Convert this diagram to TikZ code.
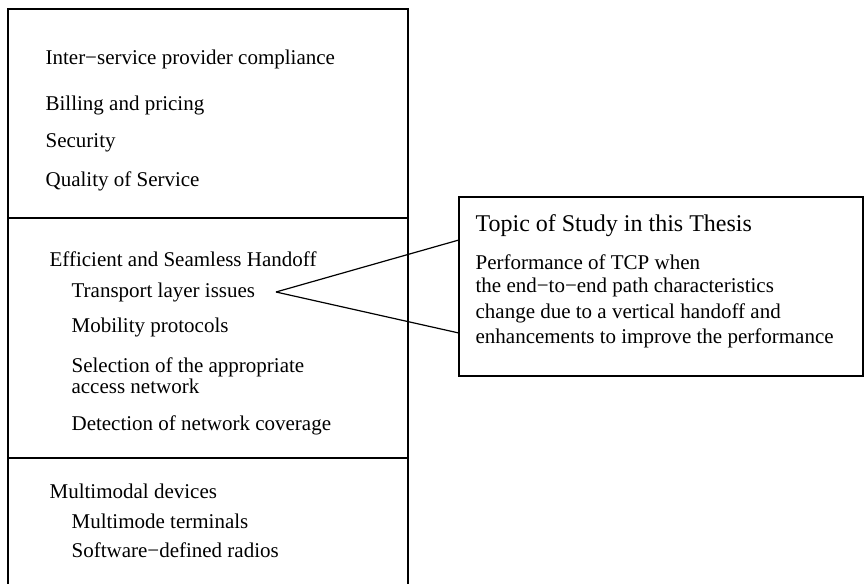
\documentclass[tikz,border=0pt]{standalone}
\usepackage{fontspec}
\setmainfont{Liberation Serif}
\usetikzlibrary{positioning,calc}

\tikzset{
    item/.style={anchor=west, inner sep=0pt, font=\fontsize{10.5}{12}\selectfont},
    head/.style={anchor=west, inner sep=0pt, font=\fontsize{12}{14}\selectfont},
    box/.style={draw, line width=0.6pt}
}

\begin{document}
\begin{tikzpicture}[x=0.5pt, y=-0.5pt, line width=0.6pt]
    \useasboundingbox (0,0) rectangle (864,584);

    % left column, open at the bottom
    \draw (8,584) -- (8,9) -- (408,9) -- (408,584);
    \draw (8,218) -- (408,218);
    \draw (8,458) -- (408,458);

    \node[item] (isp) at (45,59) {Inter−service provider compliance};
    \node[item] (bill) at (45,105) {Billing and pricing};
    \node[item] (sec) at (45,143) {Security};
    \node[item] (qos) at (45,181) {Quality of Service};

    \node[item] (hand) at (49,259) {Efficient and Seamless Handoff};
    \node[item] (trans) at (71,292) {Transport layer issues};
    \node[item] (mob) at (71,327) {Mobility protocols};
    \node[item, align=left] (sel) at (71,376) {Selection of the appropriate\\[-1.5pt]access network};
    \node[item] (det) at (71,425) {Detection of network coverage};

    \node[item] (multi) at (49,491) {Multimodal devices};
    \node[item] (term) at (71,521) {Multimode terminals};
    \node[item] (sdr) at (71,550) {Software−defined radios};

    % thesis topic
    \draw[box] (459,197) rectangle (863,376);
    \coordinate (tnw) at (459,197);
    \coordinate (tsw) at (459,376);
    \node[head] (topic) at (475,226) {Topic of Study in this Thesis};
    \node[item] (perf1) at (475,262) {Performance of TCP when};
    \node[item] (perf2) at (475,287) {the end−to−end path characteristics};
    \node[item] (perf3) at (475,313) {change due to a vertical handoff and};
    \node[item] (perf4) at (475,338) {enhancements to improve the performance};

    \coordinate (apex) at (276,292);
    \draw (apex) -- ($(tnw)!0.24!(tsw)$);
    \draw (apex) -- ($(tnw)!0.76!(tsw)$);
\end{tikzpicture}
\end{document}
